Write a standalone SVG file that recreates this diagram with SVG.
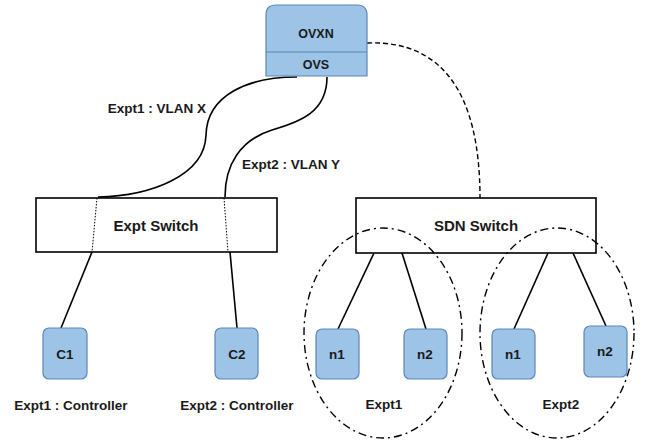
<svg xmlns="http://www.w3.org/2000/svg" width="646" height="443" viewBox="0 0 646 443">
  <style>
    text { font-family: "Liberation Sans", Arial, sans-serif; font-weight: bold; font-size: 13.5px; fill: #1a1a1a; text-anchor: middle; }
    .big { font-size: 15px; }
    .mid { font-size: 12.5px; }
    .node { fill: #9dc3e6; stroke: #5b87b8; stroke-width: 1.2; }
    .switch { fill: #ffffff; stroke: #000000; stroke-width: 1.6; }
    .link { fill: none; stroke: #000000; stroke-width: 1.6; }
    .inner { fill: none; stroke: #000000; stroke-width: 1; stroke-dasharray: 1.5 1.5; }
    .mgmt { fill: none; stroke: #000000; stroke-width: 1.4; stroke-dasharray: 5 3; }
    .group { fill: none; stroke: #000000; stroke-width: 1.4; stroke-dasharray: 8 4 2 4; }
  </style>

  <!-- switches -->
  <g id="expt-switch">
    <rect class="switch" x="36" y="198" width="241" height="54"/>
    <text class="big" x="156" y="231">Expt Switch</text>
  </g>
  <g id="sdn-switch">
    <rect class="switch" x="356" y="198" width="240" height="55"/>
    <text class="big" x="476" y="231">SDN Switch</text>
  </g>

  <!-- connectors -->
  <g id="connectors">
    <path class="link" d="M297,77 C248,77 207,95 206,135 C205,176 150,196 98,197"/>
    <path class="link" d="M327,77 C327,112 300,122 272,130 C240,140 225,165 225,197"/>
    <path class="mgmt" d="M367,43 C440,40 480,90 480,198"/>
    <path class="inner" d="M97,198 L92,252"/>
    <path class="inner" d="M224,198 L228,252"/>
    <path class="link" d="M92,252 L61,328"/>
    <path class="link" d="M230,252 L237,328"/>
    <path class="link" d="M374,253 L338,329"/>
    <path class="link" d="M402,253 L426,329"/>
    <path class="link" d="M548,253 L514,329"/>
    <path class="link" d="M573,253 L606,326"/>
  </g>

  <!-- experiment groupings -->
  <g id="expt1-group">
    <ellipse class="group" cx="383" cy="333" rx="79" ry="105"/>
    <text x="384" y="409">Expt1</text>
  </g>
  <g id="expt2-group">
    <ellipse class="group" cx="557" cy="333" rx="77" ry="105"/>
    <text x="561" y="409">Expt2</text>
  </g>

  <!-- hypervisor -->
  <g id="ovxn">
    <path class="node" d="M266,76 V15 Q266,5 276,5 H357 Q367,5 367,15 V76 Z"/>
    <line x1="266" y1="52" x2="367" y2="52" stroke="#5b87b8" stroke-width="1.2"/>
    <text class="mid" x="316" y="38">OVXN</text>
    <text class="mid" x="316" y="69">OVS</text>
  </g>

  <!-- connector labels -->
  <g id="vlan-labels">
    <text x="157" y="113">Expt1 : VLAN X</text>
    <text x="291" y="169">Expt2 : VLAN Y</text>
  </g>

  <!-- controllers -->
  <g id="c1">
    <rect class="node" x="43" y="328" width="44" height="51" rx="6"/>
    <text x="65" y="359">C1</text>
    <text x="71" y="410">Expt1 : Controller</text>
  </g>
  <g id="c2">
    <rect class="node" x="215" y="328" width="43" height="51" rx="6"/>
    <text x="237" y="359">C2</text>
    <text x="237" y="410">Expt2 : Controller</text>
  </g>

  <!-- experiment nodes -->
  <g id="expt1-n1">
    <rect class="node" x="316" y="329" width="43" height="50" rx="6"/>
    <text x="337" y="359">n1</text>
  </g>
  <g id="expt1-n2">
    <rect class="node" x="404" y="329" width="43" height="50" rx="6"/>
    <text x="425" y="359">n2</text>
  </g>
  <g id="expt2-n1">
    <rect class="node" x="492" y="329" width="43" height="50" rx="6"/>
    <text x="513" y="359">n1</text>
  </g>
  <g id="expt2-n2">
    <rect class="node" x="584" y="326" width="43" height="51" rx="6"/>
    <text x="605" y="356">n2</text>
  </g>
</svg>
